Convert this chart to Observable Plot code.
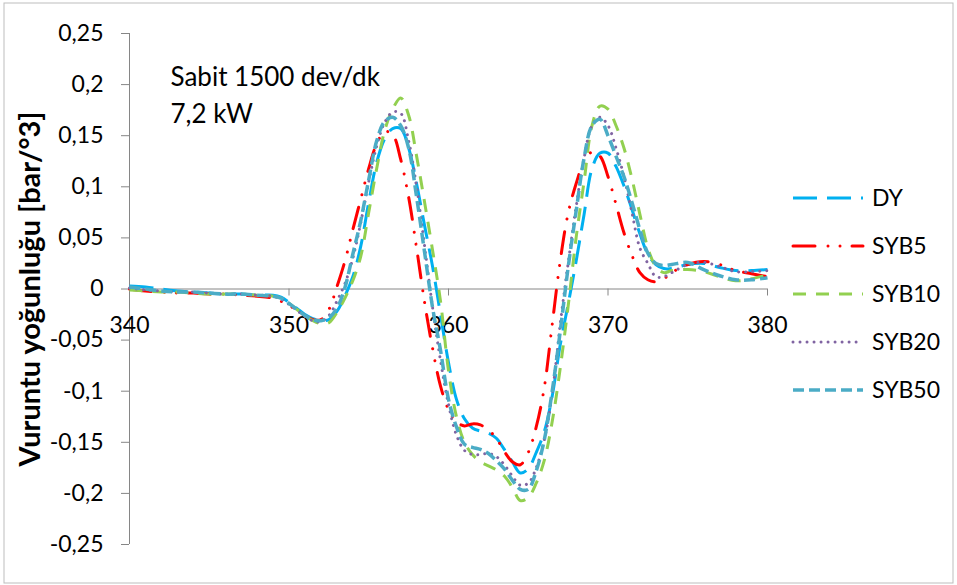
<!DOCTYPE html>
<html>
<head>
<meta charset="utf-8">
<script src="https://cdn.jsdelivr.net/npm/d3@7"></script>
<script src="https://cdn.jsdelivr.net/npm/@observablehq/plot@0.6"></script>
<style>
  body { margin: 0; background: #fff; }
  #chart { position: relative; width: 957px; height: 585px; font-family: Lato, sans-serif; }
  #chart svg { position: absolute; left: 0; top: 0; }
</style>
</head>
<body>
<div id="chart"></div>
<script>
// Crank angle [°] sample positions
const crankAngle = [
  340, 341, 342, 343, 344, 345, 346, 347, 348,
  349, 349.5, 350, 350.5, 351, 351.5, 352, 352.5, 353, 353.5, 354, 354.5,
  355, 355.5, 356, 356.5, 357, 357.5, 358, 358.5, 359, 359.5, 360, 360.5,
  361, 361.5, 362, 362.5, 363, 363.5, 364, 364.5, 365, 365.5, 366, 366.5,
  367, 367.5, 368, 368.5, 369, 369.5, 370, 370.5, 371, 371.5, 372, 372.5,
  373, 373.5, 374, 375, 376, 377, 378, 379, 380
];

// Knock intensity [bar/°3] per fuel
const DY = [
  0.003, 0.002, 0.000, -0.002, -0.003, -0.004, -0.005, -0.005, -0.006,
  -0.006, -0.008, -0.013, -0.019, -0.025, -0.029, -0.031, -0.030, -0.022, -0.007, 0.012, 0.042,
  0.085, 0.124, 0.147, 0.157, 0.157, 0.138, 0.103, 0.062, 0.022, -0.025, -0.072, -0.108,
  -0.127, -0.136, -0.139, -0.141, -0.146, -0.157, -0.169, -0.180, -0.176, -0.160, -0.140, -0.105,
  -0.055, -0.015, 0.027, 0.073, 0.118, 0.133, 0.133, 0.120, 0.101, 0.078, 0.054, 0.034,
  0.024, 0.020, 0.020, 0.024, 0.025, 0.021, 0.018, 0.018, 0.019
];
const SYB5 = [
  0.000, -0.002, -0.003, -0.004, -0.004, -0.005, -0.005, -0.006, -0.007,
  -0.009, -0.012, -0.016, -0.021, -0.026, -0.030, -0.030, -0.020, 0.002, 0.027, 0.058, 0.088,
  0.118, 0.142, 0.154, 0.151, 0.127, 0.090, 0.040, -0.013, -0.058, -0.095, -0.118, -0.130,
  -0.134, -0.132, -0.133, -0.138, -0.146, -0.159, -0.169, -0.172, -0.160, -0.135, -0.097, -0.035,
  0.027, 0.074, 0.103, 0.125, 0.134, 0.130, 0.110, 0.083, 0.055, 0.033, 0.016, 0.009,
  0.007, 0.010, 0.016, 0.024, 0.027, 0.024, 0.018, 0.015, 0.012
];
const SYB10 = [
  -0.001, -0.002, -0.003, -0.003, -0.004, -0.005, -0.005, -0.005, -0.006,
  -0.007, -0.009, -0.014, -0.020, -0.026, -0.031, -0.034, -0.033, -0.023, -0.009, 0.008, 0.032,
  0.075, 0.118, 0.155, 0.176, 0.187, 0.170, 0.130, 0.085, 0.038, -0.012, -0.080, -0.125,
  -0.150, -0.162, -0.169, -0.173, -0.177, -0.183, -0.194, -0.207, -0.204, -0.190, -0.168, -0.130,
  -0.078, -0.017, 0.050, 0.105, 0.160, 0.179, 0.176, 0.160, 0.138, 0.108, 0.073, 0.040,
  0.022, 0.016, 0.018, 0.019, 0.017, 0.012, 0.008, 0.010, 0.014
];
const SYB20 = [
  0.001, -0.001, -0.002, -0.003, -0.003, -0.004, -0.005, -0.005, -0.006,
  -0.007, -0.010, -0.015, -0.021, -0.027, -0.031, -0.032, -0.026, -0.012, 0.005, 0.030, 0.065,
  0.105, 0.140, 0.163, 0.173, 0.172, 0.145, 0.100, 0.042, -0.018, -0.070, -0.113, -0.143,
  -0.158, -0.162, -0.162, -0.161, -0.164, -0.172, -0.183, -0.192, -0.190, -0.175, -0.148, -0.103,
  -0.035, 0.025, 0.080, 0.128, 0.160, 0.168, 0.160, 0.138, 0.110, 0.075, 0.040, 0.025,
  0.012, 0.012, 0.016, 0.024, 0.026, 0.022, 0.017, 0.017, 0.018
];
const SYB50 = [
  0.002, 0.000, -0.002, -0.003, -0.003, -0.004, -0.005, -0.005, -0.006,
  -0.007, -0.009, -0.014, -0.020, -0.026, -0.030, -0.031, -0.028, -0.019, 0.001, 0.034, 0.067,
  0.107, 0.145, 0.164, 0.168, 0.160, 0.138, 0.090, 0.036, -0.018, -0.060, -0.108, -0.135,
  -0.152, -0.155, -0.157, -0.161, -0.168, -0.176, -0.187, -0.196, -0.196, -0.178, -0.148, -0.100,
  -0.042, 0.021, 0.076, 0.128, 0.160, 0.166, 0.150, 0.130, 0.110, 0.085, 0.058, 0.035,
  0.025, 0.023, 0.024, 0.026, 0.019, 0.013, 0.009, 0.009, 0.011
];

const seriesNames = ["DY", "SYB5", "SYB10", "SYB20", "SYB50"];
const seriesValues = [DY, SYB5, SYB10, SYB20, SYB50];
const xTicks = [340, 350, 360, 370, 380];
const yTicks = [-0.25, -0.2, -0.15, -0.1, -0.05, 0, 0.05, 0.1, 0.15, 0.2, 0.25];
const yTitle = "Vuruntu yoğunluğu [bar/°3]";
const note = "Sabit 1500 dev/dk\n7,2 kW";

// Line look for each fuel
const lineStyle = {
  DY:    {stroke: "#00B0F0", dash: "24,10",                 cap: "butt",  width: 3},
  SYB5:  {stroke: "#FF0000", dash: "22,13,0.01,12,0.01,12", cap: "round", width: 3},
  SYB10: {stroke: "#92D050", dash: "13,10",                 cap: "butt",  width: 3},
  SYB20: {stroke: "#8064A2", dash: "0.01,7",                cap: "round", width: 3},
  SYB50: {stroke: "#4BACC6", dash: "11,5",                  cap: "butt",  width: 3.5}
};

const rows = seriesNames.flatMap((name, k) =>
  crankAngle.map((x, i) => ({name, x, y: seriesValues[k][i]}))
);

const decimalComma = (d) => String(+d.toFixed(2)).replace(".", ",");
const axisGray = "#868686";

const plot = Plot.plot({
  width: 957,
  height: 585,
  marginLeft: 129,
  marginRight: 190,
  marginTop: 33,
  marginBottom: 41,
  x: {domain: [340, 380], axis: null},
  y: {domain: [-0.25, 0.25]},
  style: {fontFamily: "Lato, sans-serif", fontSize: "23px", color: "#000", background: "transparent"},
  marks: [
    Plot.frame({stroke: "#BDBDBD", insetLeft: -125.5, insetTop: -30.5, insetRight: -185.5, insetBottom: -38.5}),
    Plot.ruleX([340], {stroke: axisGray}),
    Plot.axisY({ticks: yTicks, tickSize: 8, tickPadding: 18, tickFormat: decimalComma,
      stroke: axisGray, fill: "#000", label: null, fontSize: 23}),
    Plot.ruleY([0], {stroke: axisGray}),
    Plot.ruleX(xTicks, {x: (d) => d, y1: 0, y2: 0, insetBottom: -7, stroke: axisGray}),
    Plot.text(xTicks, {x: (d) => d, y: 0, text: (d) => String(d), dy: 37, fontSize: 23, fill: "#000"}),
    ...seriesNames.map((name) => {
      const s = lineStyle[name];
      return Plot.line(rows.filter((r) => r.name === name), {
        x: "x", y: "y", curve: "catmull-rom",
        stroke: s.stroke, strokeWidth: s.width, strokeDasharray: s.dash, strokeLinecap: s.cap
      });
    }),
    Plot.text([note], {frameAnchor: "top-left", dx: 41, dy: 26, lineAnchor: "top",
      textAnchor: "start", fontSize: 26, lineHeight: 1.42, fill: "#000"}),
    Plot.text([yTitle], {frameAnchor: "left", dx: -99, rotate: -90, fontWeight: "bold",
      fontSize: 29, textAnchor: "middle", lineAnchor: "middle", fill: "#000"})
  ]
});
document.getElementById("chart").appendChild(plot);

// Legend to the right of the plot area
const legend = d3.select("#chart").append("svg")
  .attr("width", 957).attr("height", 585)
  .style("pointer-events", "none")
  .attr("font-family", "Lato, sans-serif")
  .attr("font-size", 23);
const entry = legend.selectAll("g").data(seriesNames).join("g")
  .attr("transform", (d, i) => `translate(793, ${198 + i * 48})`);
entry.append("line")
  .attr("x1", 0).attr("x2", 70).attr("y1", 0).attr("y2", 0)
  .attr("stroke", (d) => lineStyle[d].stroke)
  .attr("stroke-width", (d) => lineStyle[d].width)
  .attr("stroke-dasharray", (d) => lineStyle[d].dash)
  .attr("stroke-linecap", (d) => lineStyle[d].cap);
entry.append("text")
  .attr("x", 79).attr("y", 0).attr("dy", "0.35em")
  .attr("fill", "#000")
  .text((d) => d);
</script>
</body>
</html>
